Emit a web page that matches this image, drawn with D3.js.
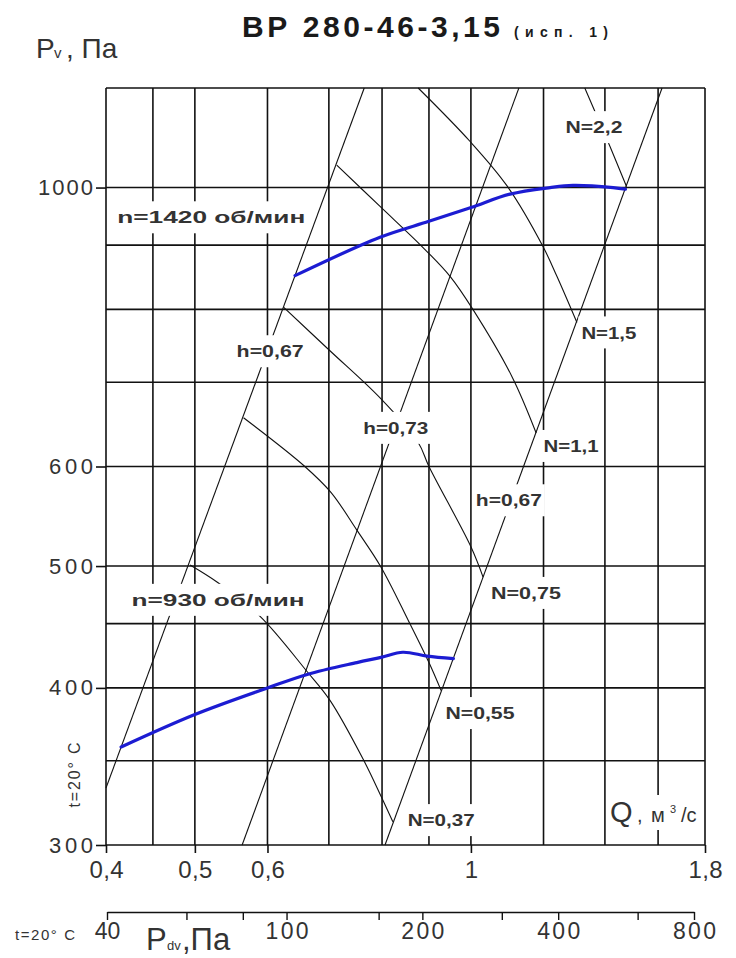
<!DOCTYPE html>
<html>
<head>
<meta charset="utf-8">
<script src="https://cdn.jsdelivr.net/npm/d3@7"></script>
<style>
  body { margin: 0; background: #fff; }
  svg text { font-family: "Liberation Sans", Arial, sans-serif; }
  svg .narrow, svg .narrow text { font-family: "Liberation Sans Narrow", "Liberation Sans", Arial, sans-serif; }
</style>
</head>
<body>
<svg id="chart" width="736" height="958"></svg>
<script>
//Rejilla y marcas de los ejes
const gridQ = [0.4, 0.45, 0.5, 0.6, 0.7, 0.8, 0.9, 1, 1.2, 1.4, 1.6, 1.8];
const gridP = [300, 350, 400, 450, 500, 600, 700, 800, 900, 1000, 1200];
const ticksQ = [0.4, 0.5, 0.6, 1, 1.8];
const ticksQLabels = ['0,4', '0,5', '0,6', '1', '1,8'];
const ticksP = [300, 400, 500, 600, 1000];
const ticksPdv = [40, 60, 80, 100, 160, 200, 300, 400, 600, 800];
const ticksPdvLabels = [40, 100, 200, 400, 800];

//Curvas del ventilador [Q, Pv]
const n1420 = [[0.643, 851], [0.796, 913], [0.9, 940], [1.0, 964], [1.103, 988], [1.22, 1000], [1.292, 1004], [1.429, 1000], [1.474, 997]];
const n930 = [[0.4155, 359], [0.5, 381], [0.6, 400], [0.663, 410], [0.751, 419], [0.798, 423], [0.843, 427], [0.896, 424], [0.957, 422]];

//Lineas de rendimiento (h)
const hIzq = [[0.4, 333], [0.765, 1200]];
const hMed = [[0.563, 300], [1.128, 1200]];
const hDer = [[0.806, 300], [1.616, 1200]];

//Curvas de potencia (N, kW)
const N22 = [[1.331, 1200], [1.418, 1078], [1.478, 1002]];
const N15 = [[0.876, 1200], [0.998, 1088], [1.095, 1003], [1.198, 898], [1.241, 850], [1.305, 781]];
const N11 = [[0.714, 1042], [0.796, 966], [0.884, 898], [0.949, 850], [1.005, 800], [1.109, 707], [1.178, 638]];
const N075 = [[0.625, 803], [0.700, 743], [0.798, 679], [0.876, 627], [0.900, 600], [1.000, 518], [1.031, 490]];
const N055 = [[0.565, 656], [0.659, 600], [0.704, 572], [0.751, 534], [0.798, 499], [0.854, 453], [0.900, 419], [0.928, 398]];
const N037 = [[0.494, 501], [0.530, 485], [0.589, 456], [0.663, 412], [0.702, 391], [0.763, 351], [0.798, 328], [0.822, 313]];

//Rotulos sobre el grafico [texto, Q, Pv]
const rotulos = [
  ['n=1420 об/мин', 0.521, 947],
  ['n=930 об/мин', 0.530, 470],
  ['h=0,67', 0.604, 741],
  ['h=0,73', 0.828, 644],
  ['h=0,67', 1.100, 564],
  ['N=2,2', 1.362, 1117],
  ['N=1,5', 1.414, 767],
  ['N=1,1', 1.286, 623],
  ['N=0,75', 1.148, 476],
  ['N=0,55', 1.023, 382],
  ['N=0,37', 0.928, 314]
];

const svg = d3.select('#chart');

const x = d3.scaleLog().domain([0.4, 1.8]).range([106, 705]);
const y = d3.scaleLog().domain([300, 1200]).range([845, 88]);
const xPdv = d3.scaleLog().domain([40, 800]).range([107, 694]);

// Rejilla
const grid = svg.append('g').attr('stroke', '#111').attr('stroke-width', 1.6);
grid.selectAll('.v').data(gridQ).enter().append('line')
  .attr('x1', d => x(d)).attr('x2', d => x(d))
  .attr('y1', y(300)).attr('y2', y(1200));
grid.selectAll('.h').data(gridP).enter().append('line')
  .attr('x1', x(0.4)).attr('x2', x(1.8))
  .attr('y1', d => y(d)).attr('y2', d => y(d));

// Lineas finas: rendimiento y potencia
const recta = d3.line().x(d => x(d[0])).y(d => y(d[1]));
const curva = d3.line().x(d => x(d[0])).y(d => y(d[1])).curve(d3.curveCatmullRom);

svg.append('g').selectAll('path')
  .data([hIzq, hMed, hDer]).enter().append('path')
  .attr('d', recta).attr('fill', 'none').attr('stroke', '#111').attr('stroke-width', 1.1);

svg.append('g').selectAll('path')
  .data([N22, N15, N11, N075, N055, N037]).enter().append('path')
  .attr('d', curva).attr('fill', 'none').attr('stroke', '#111').attr('stroke-width', 1.1);

// Curvas de presion (azul)
svg.append('g').selectAll('path')
  .data([n1420, n930]).enter().append('path')
  .attr('d', curva).attr('fill', 'none').attr('stroke', '#1c1cd2').attr('stroke-width', 3.2)
  .attr('stroke-linecap', 'round');

// Rotulos con fondo blanco
const anchoRotulo = [188, 173, 67, 65, 66, 57, 55, 55, 70, 69, 67];
const rot = svg.append('g').selectAll('g').data(rotulos).enter().append('g')
  .attr('transform', d => `translate(${x(d[1])},${y(d[2])})`);
rot.append('rect')
  .attr('x', (d, i) => -anchoRotulo[i] / 2 - 3).attr('y', -16)
  .attr('width', (d, i) => anchoRotulo[i] + 6).attr('height', 32)
  .attr('fill', '#fff');
rot.append('text')
  .text(d => d[0])
  .attr('text-anchor', 'middle').attr('dy', '0.36em')
  .attr('font-size', 17).attr('font-weight', 'bold').attr('fill', '#333')
  .attr('textLength', (d, i) => anchoRotulo[i]).attr('lengthAdjust', 'spacingAndGlyphs');

// Eje vertical Pv
const ejeY = svg.append('g')
  .attr('class', 'narrow')
  .attr('transform', `translate(${x(0.4)},0)`)
  .call(d3.axisLeft(y).tickValues(ticksP).tickFormat(d3.format('d')).tickSize(10).tickPadding(3));
ejeY.select('.domain').remove();
ejeY.attr('font-size', 22).attr('font-family', null).attr('color', '#111');
ejeY.selectAll('line').attr('stroke-width', 1.6);
ejeY.selectAll('text').attr('fill', '#333')
  .attr('textLength', d => d >= 1000 ? 55 : 44).attr('lengthAdjust', 'spacing');

// Eje horizontal Q
const ejeX = svg.append('g')
  .attr('class', 'narrow')
  .attr('transform', `translate(0,${y(300)})`)
  .call(d3.axisBottom(x).tickValues(ticksQ).tickFormat((d, i) => ticksQLabels[i]).tickSize(8).tickPadding(8));
ejeX.select('.domain').remove();
ejeX.attr('font-size', 24).attr('font-family', null).attr('color', '#111');
ejeX.selectAll('line').attr('stroke-width', 1.6);
ejeX.selectAll('text').attr('fill', '#333')
  .attr('textLength', d => d === 1 ? null : 34).attr('lengthAdjust', 'spacing');

// Eje de presion dinamica Pdv
const ejePdv = svg.append('g')
  .attr('class', 'narrow')
  .attr('transform', 'translate(0,912)')
  .call(d3.axisBottom(xPdv).tickValues(ticksPdv)
    .tickFormat(d => ticksPdvLabels.includes(d) ? d : '')
    .tickSize(8).tickSizeOuter(0).tickPadding(3));
ejePdv.attr('font-size', 23).attr('font-family', null).attr('color', '#111');
ejePdv.selectAll('line').attr('stroke-width', 1.4);
ejePdv.select('.domain').attr('stroke-width', 1.6);
ejePdv.selectAll('text').attr('fill', '#333')
  .attr('textLength', d => String(d).length === 3 ? 43 : null).attr('lengthAdjust', 'spacing');

// Titulo
const titulo = svg.append('text').attr('y', 37).attr('fill', '#1a1a1a').attr('font-weight', 'bold');
titulo.append('tspan').attr('x', 242).attr('font-size', 30)
  .attr('textLength', 258).attr('lengthAdjust', 'spacing').text('ВР 280-46-3,15');
titulo.append('tspan').attr('x', 514).attr('font-size', 14)
  .attr('textLength', 94).attr('lengthAdjust', 'spacing').text('(исп. 1)');

// Nombre del eje Pv
const pv = svg.append('text').attr('class', 'narrow').attr('y', 58).attr('fill', '#333');
pv.append('tspan').attr('x', 36).attr('font-size', 28).text('P');
pv.append('tspan').attr('x', 54).attr('font-size', 15).text('v');
pv.append('tspan').attr('x', 66).attr('font-size', 28).text(', Па');

// Nombre del eje Q (con fondo blanco)
svg.append('rect')
  .attr('x', 606).attr('y', 795).attr('width', 97).attr('height', 35)
  .attr('fill', '#fff');
const q = svg.append('text').attr('y', 822).attr('fill', '#333');
q.append('tspan').attr('x', 610).attr('font-size', 29).text('Q');
q.append('tspan').attr('x', 637).attr('font-size', 20).text(',');
q.append('tspan').attr('x', 651).attr('class', 'narrow').attr('font-size', 20).text('м');
q.append('tspan').attr('x', 670).attr('dy', -9).attr('font-size', 11).text('3');
q.append('tspan').attr('x', 681).attr('dy', 9).attr('class', 'narrow').attr('font-size', 20).text('/с');

// Temperatura
svg.append('text')
  .attr('class', 'narrow')
  .attr('transform', 'translate(80,775) rotate(-90)')
  .attr('text-anchor', 'middle').attr('font-size', 16).attr('fill', '#333')
  .attr('textLength', 65).attr('lengthAdjust', 'spacing')
  .text('t=20° C');
svg.append('text')
  .attr('class', 'narrow')
  .attr('x', 15).attr('y', 940).attr('font-size', 15).attr('fill', '#333')
  .attr('textLength', 60).attr('lengthAdjust', 'spacing')
  .text('t=20° C');

// Nombre del eje Pdv
const pdv = svg.append('text').attr('class', 'narrow').attr('y', 950).attr('fill', '#333');
pdv.append('tspan').attr('x', 146).attr('font-size', 31).text('P');
pdv.append('tspan').attr('x', 167).attr('font-size', 13).text('dv');
pdv.append('tspan').attr('x', 182).attr('font-size', 31).text(',Па');
</script>
</body>
</html>
